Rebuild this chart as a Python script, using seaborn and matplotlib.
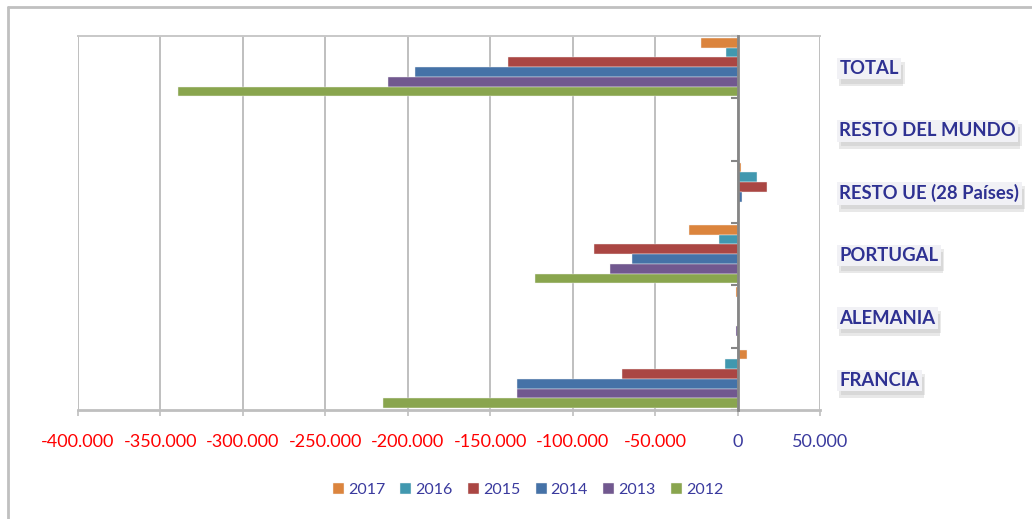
import matplotlib
matplotlib.use("Agg")
import matplotlib.pyplot as plt
import matplotlib.patheffects as pe
from matplotlib.lines import Line2D
from matplotlib.ticker import FixedLocator, FuncFormatter
import pandas as pd
import seaborn as sns

# Saldo por destino y año
categories = ["TOTAL", "RESTO DEL MUNDO", "RESTO UE (28 Países)",
              "PORTUGAL", "ALEMANIA", "FRANCIA"]
years = ["2017", "2016", "2015", "2014", "2013", "2012"]
v2017 = [-22400, 1000, 2000, -29700, -1000, 5500]
v2016 = [-7300, 0, 11700, -11500, 0, -7500]
v2015 = [-139400, 700, 18000, -87300, 0, -70300]
v2014 = [-195800, 0, 2400, -64200, 0, -134000]
v2013 = [-212100, 0, 0, -77600, -1000, -134000]
v2012 = [-339400, 0, 0, -123000, 0, -215000]
x_ticks = [-400000, -350000, -300000, -250000, -200000, -150000,
           -100000, -50000, 0, 50000]

colors = ["#DB843D", "#4198AF", "#AA4643", "#4572A7", "#71588F", "#89A54E"]
label_blue = "#2E3192"

series = dict(zip(years, [v2017, v2016, v2015, v2014, v2013, v2012]))
rows = []
for year, vals in series.items():
    for cat, v in zip(categories, vals):
        rows.append({"Destino": cat, "Año": year, "Valor": v})
df = pd.DataFrame(rows)

sns.set_style("white")
plt.rcParams["font.family"] = ["Lato", "DejaVu Sans"]

W, H = 1032, 519
fig = plt.figure(figsize=(W / 100, H / 100), dpi=100)
ax = fig.add_axes([78 / W, 1 - 410 / H, (820 - 78) / W, (410 - 36) / H])

sns.barplot(data=df, y="Destino", x="Valor", hue="Año", order=categories,
            hue_order=years, palette=colors, orient="h", width=0.94,
            edgecolor="#F4F4F4", linewidth=0.3, saturation=1, ax=ax)

ax.set_xlim(-400000, 50000)
ax.set_ylim(5.5, -0.5)
ax.set_xlabel("")
ax.set_ylabel("")

# x axis: thousands with dots, negatives in red
ax.xaxis.set_major_locator(FixedLocator(x_ticks))
ax.xaxis.set_major_formatter(FuncFormatter(
    lambda v, p: "0" if v == 0 else f"{int(v):,}".replace(",", ".")))
ax.tick_params(axis="x", which="major", bottom=True, length=4, width=1.2,
               color="#BFBFBF", pad=13, labelsize=13)
for lab, v in zip(ax.get_xticklabels(), x_ticks):
    lab.set_color("#FF0000" if v < 0 else "#3A3A9E")

ax.grid(axis="x", color="#BFBFBF", linewidth=1.4)
ax.grid(axis="y", visible=False)
ax.set_axisbelow(True)

# zero line as the category axis
ax.spines["left"].set_position(("data", 0))
ax.spines["left"].set_color("#868686")
ax.spines["left"].set_linewidth(2)
ax.spines["left"].set_zorder(5)
ax.spines["right"].set_visible(False)
ax.spines["top"].set_color("#C8C8C8")
ax.spines["top"].set_linewidth(1.4)
ax.spines["bottom"].set_color("#BFBFBF")
ax.spines["bottom"].set_linewidth(2)

ax.yaxis.set_minor_locator(FixedLocator([i - 0.5 for i in range(len(categories) + 1)]))
ax.tick_params(axis="y", which="minor", left=True, right=False, length=5,
               width=1.5, color="#868686", direction="out")
ax.tick_params(axis="y", which="major", left=False, right=True, length=0,
               labelleft=False, labelright=True, pad=14, labelsize=13.3,
               labelcolor=label_blue)
for lab in ax.get_yticklabels():
    lab.set_fontweight("bold")
    lab.set_ha("left")
    lab.set_va("center_baseline")
    lab.set_bbox(dict(boxstyle="square,pad=0.12", facecolor="#F1F1F5",
                      edgecolor="none"))
    lab.get_bbox_patch().set_path_effects([
        pe.withSimplePatchShadow(offset=(1.5, -5), shadow_rgbFace="#9A9A9A",
                                 alpha=0.22),
        pe.withSimplePatchShadow(offset=(2.5, -3), shadow_rgbFace="#A0A0A0",
                                 alpha=0.22),
    ])

# legend along the bottom
handles, labels = ax.get_legend_handles_labels()
ax.get_legend().remove()
fig.legend(handles, labels, loc="center", ncol=6,
           bbox_to_anchor=(528 / W, 1 - 490 / H), frameon=False,
           fontsize=11.5, labelcolor="#3A3A9E", handlelength=0.7,
           handleheight=0.7, handletextpad=0.25, columnspacing=0.95)

# chart frame
fig.add_artist(Line2D([7.5 / W, 7.5 / W], [0, 1 - 6.5 / H],
                      transform=fig.transFigure, color="#C0C0C0", lw=2))
fig.add_artist(Line2D([7.5 / W, 1], [1 - 6.5 / H, 1 - 6.5 / H],
                      transform=fig.transFigure, color="#C0C0C0", lw=2))

fig.savefig("out.png", dpi=100)
